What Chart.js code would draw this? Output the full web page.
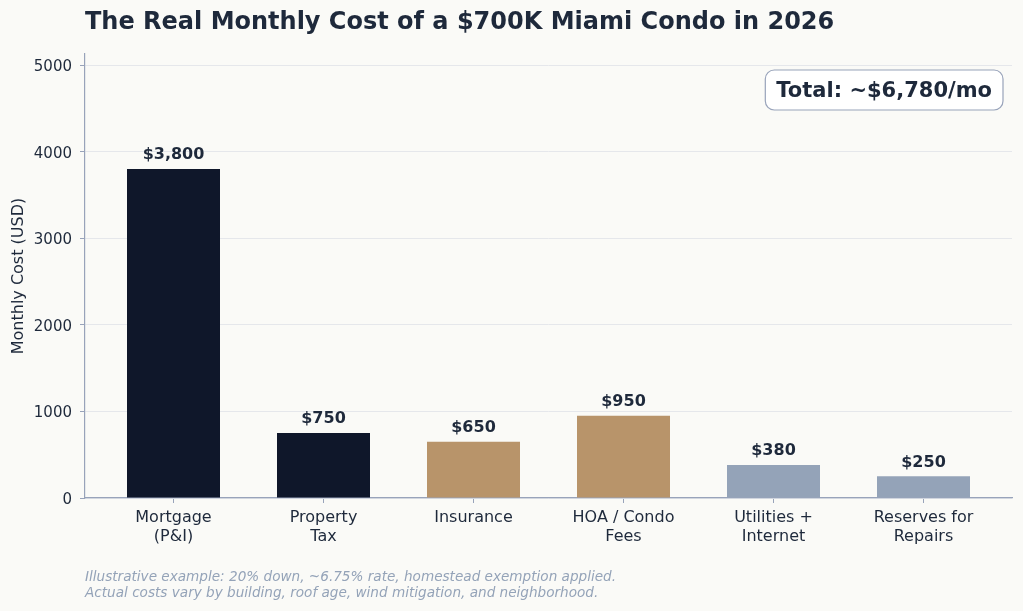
<!DOCTYPE html>
<html>
<head>
<meta charset="utf-8">
<script src="https://cdn.jsdelivr.net/npm/chart.js@4.4.1/dist/chart.umd.min.js"></script>
<style>
  html, body { margin: 0; padding: 0; background: #fafaf7; }
  #wrap { width: 1023px; height: 611px; }
</style>
</head>
<body>
<div id="wrap"><canvas id="chart" width="1023" height="611"></canvas></div>
<script>
// Monthly cost breakdown
const categories = [
  ['Mortgage', '(P&I)'],
  ['Property', 'Tax'],
  ['Insurance'],
  ['HOA / Condo', 'Fees'],
  ['Utilities +', 'Internet'],
  ['Reserves for', 'Repairs']
];
const monthlyCost = [3800, 750, 650, 950, 380, 250];
const barColors = ['#0f172a', '#0f172a', '#b8946a', '#b8946a', '#94a3b8', '#94a3b8'];
const yTicks = [0, 1000, 2000, 3000, 4000, 5000];

const titleText = 'The Real Monthly Cost of a $700K Miami Condo in 2026';
const footnoteLines = [
  'Illustrative example: 20% down, ~6.75% rate, homestead exemption applied.',
  'Actual costs vary by building, roof age, wind mitigation, and neighborhood.'
];

const FONT = '"DejaVu Sans", "Liberation Sans", sans-serif';
const TEXT = '#1e293b';
const SPINE = '#98a3ba';

function money(v) {
  return '$' + v.toLocaleString('en-US');
}

// title, value labels, total box and footnote drawn on top of the chart
const annotations = {
  id: 'annotations',
  afterDraw(chart) {
    const ctx = chart.ctx;
    const area = chart.chartArea;
    ctx.save();

    ctx.fillStyle = TEXT;
    ctx.font = 'bold 24px ' + FONT;
    ctx.textAlign = 'left';
    ctx.textBaseline = 'middle';
    ctx.fillText(titleText, area.left, 23);

    // values above bars
    ctx.font = 'bold 16px ' + FONT;
    ctx.textAlign = 'center';
    ctx.textBaseline = 'bottom';
    chart.getDatasetMeta(0).data.forEach((bar, i) => {
      ctx.fillText(money(monthlyCost[i]), bar.x, bar.y - 6);
    });

    // total box
    const total = monthlyCost.reduce((a, b) => a + b, 0);
    const label = 'Total: ~' + money(total) + '/mo';
    ctx.font = 'bold 21px ' + FONT;
    const w = ctx.measureText(label).width + 22;
    const h = 40;
    const x = area.right - 9 - w;
    const y = 70;
    ctx.beginPath();
    ctx.roundRect(x, y, w, h, 9);
    ctx.fillStyle = '#ffffff';
    ctx.fill();
    ctx.lineWidth = 1.2;
    ctx.strokeStyle = SPINE;
    ctx.stroke();
    ctx.fillStyle = TEXT;
    ctx.textBaseline = 'middle';
    ctx.fillText(label, x + w / 2, y + h / 2 + 1.5);

    // footnote
    ctx.font = 'italic 13.6px ' + FONT;
    ctx.fillStyle = '#94a3b8';
    ctx.textAlign = 'left';
    ctx.textBaseline = 'middle';
    footnoteLines.forEach((line, i) => {
      ctx.fillText(line, area.left, 577 + i * 16);
    });

    ctx.restore();
  }
};

new Chart(document.getElementById('chart').getContext('2d'), {
  type: 'bar',
  data: {
    datasets: [{
      data: monthlyCost.map((v, i) => ({ x: i, y: v })),
      backgroundColor: barColors,
      borderWidth: 0,
      barPercentage: 0.62,
      categoryPercentage: 1
    }]
  },
  options: {
    responsive: false,
    animation: false,
    layout: { padding: { top: 54, right: 11, left: 0, bottom: 0 } },
    plugins: {
      legend: { display: false },
      tooltip: { enabled: false },
      title: { display: false }
    },
    scales: {
      x: {
        type: 'linear',
        offset: false,
        min: -0.59,
        max: 5.59,
        afterBuildTicks: axis => { axis.ticks = categories.map((c, i) => ({ value: i })); },
        afterFit: axis => { axis.height = 113; },
        ticks: {
          callback: v => categories[v],
          color: TEXT,
          font: { family: FONT, size: 16 },
          padding: 5,
          maxRotation: 0,
          autoSkip: false
        },
        grid: { offset: false, drawOnChartArea: false, drawTicks: true, tickLength: 5, tickColor: SPINE },
        border: { color: SPINE, width: 1.2 }
      },
      y: {
        min: 0,
        max: 5130,
        afterBuildTicks: axis => { axis.ticks = yTicks.map(v => ({ value: v })); },
        afterFit: axis => { axis.width = 85; },
        ticks: {
          callback: v => String(v),
          color: TEXT,
          font: { family: FONT, size: 15 },
          padding: 8,
          labelOffset: 2
        },
        grid: { color: '#e5e7eb', lineWidth: 1, tickLength: 5, tickColor: SPINE },
        border: { color: SPINE, width: 1.2 },
        title: {
          display: true,
          text: 'Monthly Cost (USD)',
          color: TEXT,
          font: { family: FONT, size: 16 },
          padding: { top: 9, bottom: 0 }
        }
      }
    }
  },
  plugins: [annotations]
});
</script>
</body>
</html>
